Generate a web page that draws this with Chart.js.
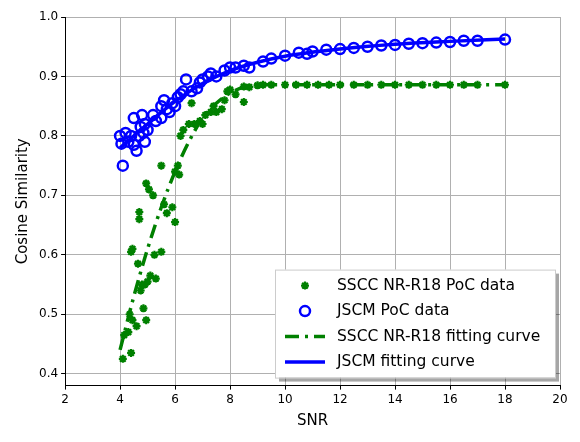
<!DOCTYPE html>
<html>
<head>
<script src="https://cdn.jsdelivr.net/npm/chart.js@4"></script>
<style>body{margin:0;background:#fff}</style>
</head>
<body>
<canvas id="c" width="580" height="442"></canvas>
<script>
const ssccData = [
  [4.1,0.425],[4.15,0.465],[4.3,0.47],[4.35,0.5],[4.4,0.435],[4.45,0.49],[4.4,0.605],[4.45,0.61],[4.6,0.48],[4.65,0.585],
  [4.7,0.66],[4.7,0.672],[4.8,0.55],[4.75,0.54],[4.85,0.51],[4.9,0.55],[4.95,0.49],[4.95,0.72],[5.0,0.555],[5.05,0.71],
  [5.1,0.565],[5.2,0.7],[5.25,0.6],[5.3,0.56],[5.5,0.605],[5.5,0.75],[5.6,0.685],[5.7,0.67],[5.9,0.68],[6.0,0.655],
  [6.0,0.74],[6.1,0.75],[6.15,0.735],[6.2,0.8],[6.3,0.81],[6.5,0.82],[6.6,0.855],[6.7,0.82],[6.9,0.825],[7.0,0.82],
  [7.1,0.835],[7.3,0.84],[7.4,0.85],[7.5,0.84],[7.7,0.845],[7.8,0.86],[7.9,0.875],[8.0,0.878],[8.2,0.87],[8.5,0.857],
  [8.5,0.883],[8.7,0.882],[9.0,0.885],[9.2,0.886],[9.5,0.886],[10.0,0.886],[10.4,0.886],[10.8,0.886],[11.2,0.886],[11.6,0.886],
  [12.0,0.886],[12.5,0.886],[13.0,0.886],[13.5,0.886],[14.0,0.886],[14.5,0.886],[15.0,0.886],[15.5,0.886],[16.0,0.886],[16.5,0.886],[17.0,0.886],[18.0,0.886]
];
const jscmData = [
  [4.0,0.8],[4.05,0.787],[4.1,0.75],[4.2,0.805],[4.3,0.79],[4.4,0.8],[4.5,0.83],[4.5,0.785],[4.6,0.775],[4.7,0.8],
  [4.75,0.815],[4.8,0.835],[4.85,0.805],[4.9,0.79],[4.9,0.82],[5.0,0.81],[5.2,0.835],[5.3,0.825],[5.5,0.83],[5.5,0.85],
  [5.6,0.86],[5.7,0.845],[5.8,0.84],[5.9,0.855],[6.0,0.85],[6.1,0.865],[6.2,0.87],[6.3,0.875],[6.4,0.895],[6.6,0.875],
  [6.8,0.88],[6.9,0.89],[7.0,0.895],[7.2,0.9],[7.3,0.905],[7.5,0.9],[7.8,0.91],[8.0,0.915],[8.2,0.915],[8.5,0.918],
  [8.7,0.915],[9.2,0.925],[9.5,0.93],[10.0,0.935],[10.5,0.94],[10.8,0.938],[11.0,0.942],[11.5,0.945],[12.0,0.946],[12.5,0.948],
  [13.0,0.95],[13.5,0.952],[14.0,0.953],[14.5,0.955],[15.0,0.956],[15.5,0.957],[16.0,0.958],[16.5,0.96],[17.0,0.96],[18.0,0.962]
];
const ssccFit = [[4,0.44],[4.5,0.53],[5,0.61],[5.5,0.68],[6,0.74],[6.5,0.79],[7,0.83],[7.5,0.855],[8,0.872],[8.5,0.882],[9,0.886],[12,0.886],[18,0.886]];
const jscmFit = [[4,0.78],[5,0.82],[6,0.858],[7,0.888],[8,0.91],[9,0.924],[10,0.934],[12,0.946],[14,0.954],[16,0.959],[18,0.963]];
const xTicks = [2,4,6,8,10,12,14,16,18,20];
const yTicks = [0.4,0.5,0.6,0.7,0.8,0.9,1.0];

const pts = a => a.map(p => ({x: p[0], y: p[1]}));

const insideLegend = {
  id: 'insideLegend',
  afterDraw(chart) {
    const ctx = chart.ctx, a = chart.chartArea;
    const w = 280, h = 108, x = a.right - w - 5, y = a.bottom - h - 8;
    ctx.save();
    ctx.fillStyle = 'rgba(0,0,0,0.35)';
    ctx.fillRect(x + 4, y + 4, w, h);
    ctx.fillStyle = '#fff';
    ctx.strokeStyle = '#ccc';
    ctx.fillRect(x, y, w, h);
    ctx.strokeRect(x + 0.5, y + 0.5, w, h);
    ctx.font = '15.5px "DejaVu Sans"';
    ctx.textBaseline = 'middle';
    chart.data.datasets.forEach((ds, i) => {
      const cy = y + 16 + i * 25.5, lx = x + 10;
      ctx.fillStyle = '#000';
      ctx.fillText(ds.label, lx + 52, cy);
      if (ds.showLine) {
        ctx.strokeStyle = ds.borderColor;
        ctx.lineWidth = ds.borderWidth;
        ctx.setLineDash(ds.borderDash || []);
        ctx.beginPath(); ctx.moveTo(lx, cy); ctx.lineTo(lx + 40, cy); ctx.stroke();
        ctx.setLineDash([]);
      } else {
        ctx.strokeStyle = ds.borderColor; ctx.lineWidth = ds.borderWidth;
        ctx.fillStyle = ds.backgroundColor;
        Chart.helpers.drawPoint(ctx, {pointStyle: ds.pointStyle, radius: ds.pointRadius, borderWidth: ds.borderWidth}, lx + 20, cy);
      }
    });
    ctx.restore();
  }
};

new Chart(document.getElementById('c'), {
  type: 'scatter',
  data: {
    datasets: [
      {label: 'SSCC NR-R18 PoC data', data: pts(ssccData), pointStyle: 'star', pointRadius: 4, borderWidth: 2.2, borderColor: 'green', backgroundColor: 'green', showLine: false},
      {label: 'JSCM PoC data', data: pts(jscmData), pointStyle: 'circle', pointRadius: 5, borderWidth: 2.5, borderColor: 'blue', backgroundColor: 'rgba(0,0,0,0)', showLine: false},
      {label: 'SSCC NR-R18 fitting curve', data: pts(ssccFit), showLine: true, pointRadius: 0, borderWidth: 3.5, borderColor: 'green', borderDash: [14, 6, 3, 6], cubicInterpolationMode: 'monotone'},
      {label: 'JSCM fitting curve', data: pts(jscmFit), showLine: true, pointRadius: 0, borderWidth: 3.5, borderColor: 'blue', cubicInterpolationMode: 'monotone'}
    ]
  },
  options: {
    responsive: false, animation: false, devicePixelRatio: 1,
    layout: {padding: {top: 17, right: 20, left: 10, bottom: 10}},
    plugins: {legend: {display: false}, tooltip: {enabled: false}},
    scales: {
      x: {min: 2, max: 20, afterBuildTicks: s => { s.ticks = xTicks.map(v => ({value: v})); },
          title: {display: true, text: 'SNR', font: {size: 15, family: 'DejaVu Sans'}, color: '#000', padding: 2},
          ticks: {font: {size: 12, family: 'DejaVu Sans'}, color: '#000'},
          grid: {color: '#b0b0b0', tickColor: '#000', tickLength: 4}, border: {color: '#000'}},
      y: {min: 0.38, max: 1.0, afterBuildTicks: s => { s.ticks = yTicks.map(v => ({value: v})); },
          title: {display: true, text: 'Cosine Similarity', font: {size: 15, family: 'DejaVu Sans'}, color: '#000'},
          ticks: {font: {size: 12, family: 'DejaVu Sans'}, color: '#000', callback: v => v.toFixed(1)},
          grid: {color: '#b0b0b0', tickColor: '#000', tickLength: 4}, border: {color: '#000'}}
    }
  },
  plugins: [insideLegend]
});
</script>
</body>
</html>
